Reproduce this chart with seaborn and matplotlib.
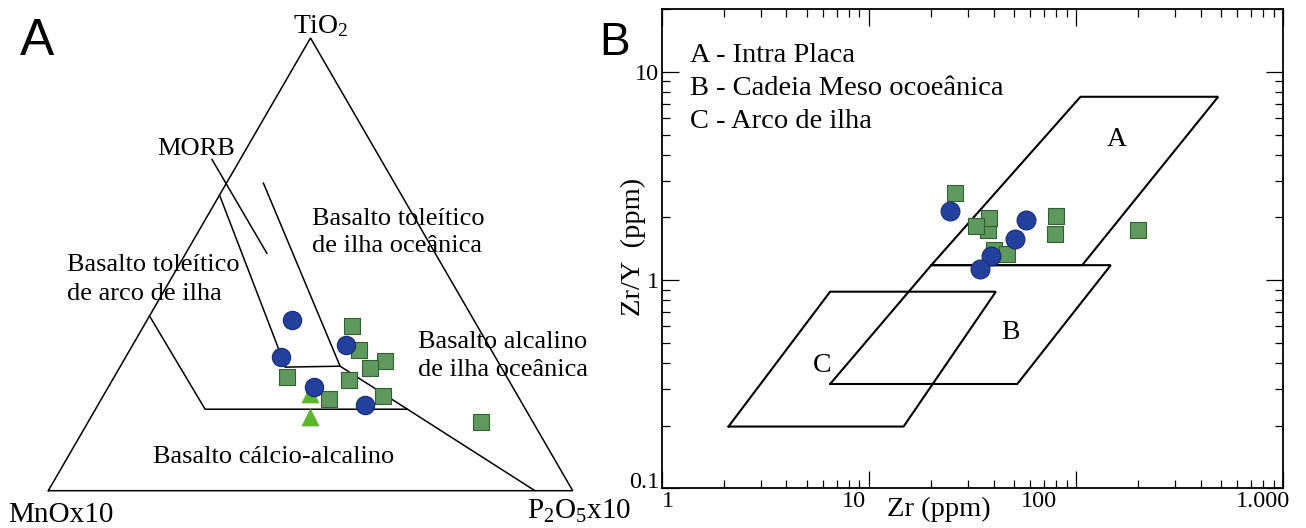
import numpy as np
import pandas as pd
import matplotlib
matplotlib.use('Agg')
import matplotlib.pyplot as plt
import matplotlib.ticker as mticker
from matplotlib.transforms import ScaledTranslation
import seaborn as sns

sns.set_style('white', {'axes.edgecolor': 'black', 'text.color': 'black',
                        'xtick.color': 'black', 'ytick.color': 'black',
                        'axes.labelcolor': 'black'})
plt.rcParams['font.family'] = ['Liberation Serif', 'DejaVu Serif']
plt.rcParams['mathtext.fontset'] = 'custom'
plt.rcParams['mathtext.rm'] = 'Liberation Serif'
plt.rcParams['mathtext.it'] = 'Liberation Serif:italic'

# ---------------- data, panel A (TiO2 - MnOx10 - P2O5x10, %) ----------------
circ_ti = [37.7, 29.6, 32.2, 22.8, 18.9]
circ_mn = [34.7, 40.8, 27.2, 37.9, 30.2]
circ_p = [27.6, 29.6, 40.6, 39.3, 50.9]

sq_ti = [36.4, 31.1, 28.7, 27.0, 25.0, 24.5, 20.2, 20.9, 15.2]
sq_mn = [23.9, 25.2, 21.4, 25.1, 42.0, 30.4, 36.3, 25.7, 9.9]
sq_p = [39.6, 43.8, 49.9, 47.8, 32.9, 45.2, 43.5, 53.4, 74.9]

tri_ti = [21.4, 16.3]
tri_mn = [39.4, 41.9]
tri_p = [39.2, 41.7]

# field boundaries as (TiO2, MnO, P2O5)
frame = [(0, 100, 0), (0, 0, 100), (100, 0, 0), (0, 100, 0)]
bound_arc = [(38.6, 61.4, 0.0), (18.0, 61.1, 20.9), (18.0, 22.5, 59.5)]
bound_morb_a = [(65.3, 34.7, 0.0), (32.6, 40.2, 27.2), (27.3, 41.2, 31.5),
                (27.5, 30.6, 41.9)]
bound_morb_b = [(68.0, 25.0, 7.0), (27.5, 30.6, 41.9), (0.0, 7.2, 92.8)]
morb_tick = [(73.2, 32.2, -5.4), (52.4, 32.1, 15.5)]

# ---------------- data, panel B (Zr vs Zr/Y) ----------------
sq_zr = [26.0, 37.4, 37.9, 32.9, 79.9, 79.3, 199.7, 40.3, 46.2]
sq_zry = [2.61, 1.74, 1.98, 1.82, 2.03, 1.66, 1.75, 1.39, 1.33]
circ_zr = [24.7, 57.3, 50.9, 39.0, 34.5]
circ_zry = [2.15, 1.94, 1.58, 1.31, 1.13]

field_a_zr = [20, 105, 485, 107, 20]
field_a_zry = [1.18, 7.6, 7.6, 1.18, 1.18]
field_b_zr = [6.5, 20, 147, 52, 6.5]
field_b_zry = [0.317, 1.18, 1.18, 0.317, 0.317]
field_c_zr = [2.1, 6.5, 41, 14.7, 2.1]
field_c_zry = [0.198, 0.88, 0.88, 0.198, 0.198]

field_letters = ['A', 'B', 'C']
letter_zr = [157, 48, 5.95]
letter_zry = [4.75, 0.56, 0.387]
field_names = ['A - Intra Placa', 'B - Cadeia Meso ocoeânica', 'C - Arco de ilha']

xtick_vals = [1, 10, 100, 1000]
xtick_labels = ['1', '10', '100', '1.000']
ytick_vals = [0.1, 1, 10]
ytick_labels = ['0.1', '1', '10']

# marker styles
blue_fc, blue_ec = '#22409c', '#182c74'
green_fc, green_ec = '#5f995f', '#335f35'
tri_c = '#5cb52e'


def tern_xy(pts):
    a = np.asarray(pts, dtype=float)
    ti, mn, p = a[:, 0], a[:, 1], a[:, 2]
    s = ti + mn + p
    return (p + ti / 2) / s, ti / s


fig = plt.figure(figsize=(13.06, 5.28), dpi=100)
W, H = 1306, 528


def rect(x0, y0, x1, y1):
    return [x0 / W, 1 - y1 / H, (x1 - x0) / W, (y1 - y0) / H]


# ======================= panel A =======================
axA = fig.add_axes(rect(48.3, 38, 572.7, 490.7))
axA.set_xlim(0, 1)
axA.set_ylim(0, 1)
axA.axis('off')

for line in [frame, bound_arc, bound_morb_a, bound_morb_b, morb_tick]:
    x, y = tern_xy(line)
    axA.plot(x, y, color='black', lw=1.1, clip_on=False, solid_joinstyle='miter')

x, y = tern_xy(list(zip(sq_ti, sq_mn, sq_p)))
sns.scatterplot(x=x, y=y, ax=axA, marker='s', s=140, color=green_fc,
                edgecolor=green_ec, linewidth=0.8, zorder=3, clip_on=False, legend=False)
x, y = tern_xy(list(zip(tri_ti, tri_mn, tri_p)))
sns.scatterplot(x=x, y=y, ax=axA, marker='^', s=150, color=tri_c,
                edgecolor=tri_c, linewidth=0.5, zorder=4, clip_on=False, legend=False)
x, y = tern_xy(list(zip(circ_ti, circ_mn, circ_p)))
sns.scatterplot(x=x, y=y, ax=axA, marker='o', s=175, color=blue_fc,
                edgecolor=blue_ec, linewidth=0.8, zorder=5, clip_on=False, legend=False)

fs_reg = 19
axA.text(0.4666, 1.011, 'TiO$_2$', fontsize=20, va='baseline', ha='left')
axA.text(-0.0763, -0.0685, 'MnOx10', fontsize=21, va='baseline', ha='left')
axA.text(0.9123, -0.0614, 'P$_2$O$_5$x10', fontsize=21, va='baseline', ha='left')
axA.text(0.2073, 0.7416, 'MORB', fontsize=fs_reg, va='baseline', ha='left')
axA.text(0.5029, 0.5869, 'Basalto toleítico', fontsize=fs_reg, va='baseline')
axA.text(0.5029, 0.5273, 'de ilha oceânica', fontsize=fs_reg, va='baseline')
axA.text(0.0357, 0.4853, 'Basalto toleítico', fontsize=fs_reg, va='baseline')
axA.text(0.0357, 0.4213, 'de arco de ilha', fontsize=fs_reg, va='baseline')
axA.text(0.7056, 0.3152, 'Basalto alcalino', fontsize=fs_reg, va='baseline')
axA.text(0.7056, 0.2534, 'de ilha oceânica', fontsize=fs_reg, va='baseline')
axA.text(0.2002, 0.0612, 'Basalto cálcio-alcalino', fontsize=fs_reg, va='baseline')

# ======================= panel B =======================
axB = fig.add_axes(rect(661.7, 9.3, 1283.3, 488.3))
axB.set_xscale('log')
axB.set_yscale('log')

for fx, fy in [(field_a_zr, field_a_zry), (field_b_zr, field_b_zry),
               (field_c_zr, field_c_zry)]:
    axB.plot(fx, fy, color='black', lw=1.5, solid_joinstyle='miter', zorder=2)

sns.scatterplot(x=sq_zr, y=sq_zry, ax=axB, marker='s', s=135, color=green_fc,
                edgecolor=green_ec, linewidth=0.8, zorder=3, legend=False)
sns.scatterplot(x=circ_zr, y=circ_zry, ax=axB, marker='o', s=185, color=blue_fc,
                edgecolor=blue_ec, linewidth=0.8, zorder=4, legend=False)

for lab, zx, zy in zip(field_letters, letter_zr, letter_zry):
    axB.text(zx, zy, lab, fontsize=20, ha='center', va='center')

for i, name in enumerate(field_names):
    axB.text(0.0455, 0.8906 - i * 0.0689, name, fontsize=20.5,
             transform=axB.transAxes, va='baseline', ha='left')

axB.set_xlim(1, 1000)
axB.set_ylim(0.1, 20)

axB.xaxis.set_major_locator(mticker.FixedLocator(xtick_vals))
axB.xaxis.set_major_formatter(mticker.FixedFormatter(xtick_labels))
axB.yaxis.set_major_locator(mticker.FixedLocator(ytick_vals))
axB.yaxis.set_major_formatter(mticker.FixedFormatter(ytick_labels))
for axis in (axB.xaxis, axB.yaxis):
    axis.set_minor_locator(mticker.LogLocator(base=10, subs=np.arange(2, 10), numticks=30))
    axis.set_minor_formatter(mticker.NullFormatter())

axB.tick_params(which='both', direction='in', top=True, right=True,
                bottom=True, left=True, width=0.9)
axB.tick_params(which='major', length=12, labelsize=17.5, pad=2)
axB.tick_params(which='minor', length=6)
for sp in axB.spines.values():
    sp.set_linewidth(1.3)
    sp.set_color('black')

# nudge tick labels like the original figure (pixels)
x_shift = [6, -14.6, -37, -20]
for tk, dx in zip(axB.xaxis.get_major_ticks(), x_shift):
    tk.label1.set_transform(tk.label1.get_transform() +
                            ScaledTranslation(dx / 100, 0, fig.dpi_scale_trans))
y_shift = [8, 0, 0]
for tk, dy in zip(axB.yaxis.get_major_ticks(), y_shift):
    tk.label1.set_transform(tk.label1.get_transform() +
                            ScaledTranslation(0, dy / 100, fig.dpi_scale_trans))

axB.set_xlabel('Zr (ppm)', fontsize=20.5)
axB.xaxis.set_label_coords(0.446, -0.0578)
axB.xaxis.label.set_va('baseline')
axB.set_ylabel('Zr/Y  (ppm)', fontsize=20.5)
axB.yaxis.set_label_coords(-0.046, 0.503)
axB.yaxis.label.set_va('center')

# panel letters
fig.text(20 / W, 1 - 55 / H, 'A', fontsize=37, family='Liberation Sans', va='baseline')
fig.text(599 / W, 1 - 55 / H, 'B', fontsize=33, family='Liberation Sans', va='baseline')

fig.savefig('out.png', dpi=100, facecolor='white')
